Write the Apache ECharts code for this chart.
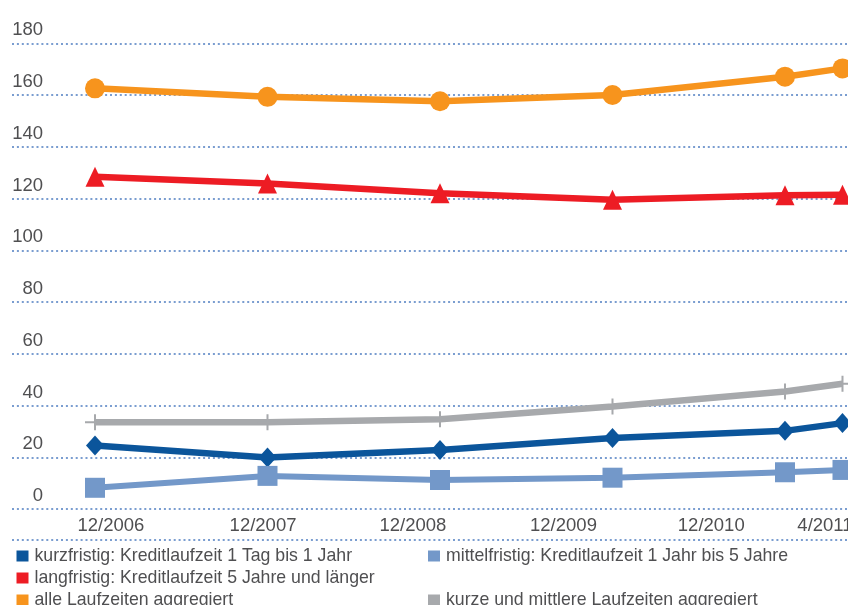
<!DOCTYPE html>
<html>
<head>
<meta charset="utf-8">
<script src="https://cdn.jsdelivr.net/npm/echarts@6/dist/echarts.min.js"></script>
<style>
html,body{margin:0;padding:0;background:#fff;}
#chart{width:848px;height:605px;}
</style>
</head>
<body>
<div id="chart"></div>
<script>
// months since 12/2006
const monthsX = [0, 12, 24, 36, 48, 52];
const xTickLabels = ['12/2006', '12/2007', '12/2008', '12/2009', '12/2010', '4/2011'];
const xLabelPositions = [1.11, 11.69, 22.12, 32.59, 42.87, 50.78];

const seriesNames = [
  'kurzfristig: Kreditlaufzeit 1 Tag bis 1 Jahr',
  'mittelfristig: Kreditlaufzeit 1 Jahr bis 5 Jahre',
  'langfristig: Kreditlaufzeit 5 Jahre und länger',
  'alle Laufzeiten aggregiert',
  'kurze und mittlere Laufzeiten aggregiert'
];
const kurzfristig = [24.5, 19.9, 22.8, 27.4, 30.2, 33.2];
const mittelfristig = [8.2, 12.8, 11.2, 12.1, 14.2, 15.1];
const langfristig = [128.4, 125.8, 122.0, 119.5, 121.3, 121.5];
const alleAggregiert = [162.6, 159.3, 157.6, 160.0, 167.1, 170.3];
const kurzMittelAggregiert = [33.5, 33.5, 34.7, 39.6, 45.4, 48.4];

const yMin = 0, yMax = 180, yStep = 20;

const colors = ['#0b559b', '#7398c9', '#ed1c24', '#f7941d', '#a7a9ac'];
const textColor = '#4f4f51';
const gridColor = '#7a9dd0';
const font = 'Liberation Sans, Arial, Helvetica, sans-serif';

function pairs(vals) { return vals.map((v, i) => [monthsX[i], v]); }

const chart = echarts.init(document.getElementById('chart'), null, {renderer: 'canvas'});

function lineSeries(name, vals, color, symbol, size, width) {
  return {
    name: name,
    type: 'line',
    data: pairs(vals),
    symbol: symbol,
    symbolSize: size,
    showAllSymbol: true,
    lineStyle: {color: color, width: width},
    itemStyle: {color: color},
    emphasis: {disabled: true},
    animation: false,
    z: 3
  };
}

const plusPath = 'path://M9,0 L11,0 L11,7 L20,7 L20,9 L11,9 L11,16 L9,16 L9,9 L0,9 L0,7 L9,7 Z';

function legendAt(left, top, name) {
  return {
    left: left,
    top: top,
    orient: 'vertical',
    icon: 'rect',
    itemWidth: 12,
    itemHeight: 11,
    selectedMode: false,
    data: [name],
    textStyle: {color: textColor, fontSize: 17.7, fontFamily: font, lineHeight: 20, padding: [0, 0, 0, 1]}
  };
}

chart.setOption({
  backgroundColor: '#ffffff',
  animation: false,
  grid: {left: 12, right: 0, top: 43.3, bottom: 96, containLabel: false, outerBoundsMode: 'none'},
  xAxis: {
    type: 'value',
    min: -5.774,
    max: 52.383,
    axisLine: {show: false},
    axisTick: {show: false},
    splitLine: {show: false},
    axisLabel: {
      customValues: xLabelPositions,
      color: textColor,
      fontSize: 18.5,
      fontFamily: font,
      margin: 7,
      formatter: function (val) {
        let best = 0, bd = Infinity;
        xLabelPositions.forEach((p, i) => { const d = Math.abs(p - val); if (d < bd) { bd = d; best = i; } });
        return xTickLabels[best];
      }
    }
  },
  yAxis: {
    type: 'value',
    min: yMin,
    max: yMax,
    interval: yStep,
    axisLine: {show: false},
    axisTick: {show: false},
    splitLine: {show: true, lineStyle: {color: gridColor, width: 2, type: [2, 2.9]}},
    axisLabel: {
      inside: true,
      align: 'right',
      margin: 31,
      verticalAlign: 'bottom',
      lineHeight: 26,
      color: textColor,
      fontSize: 18.5,
      fontFamily: font
    }
  },
  legend: [
    legendAt(11.5, 541, seriesNames[0]),
    legendAt(11.5, 563, seriesNames[2]),
    legendAt(11.5, 585, seriesNames[3]),
    legendAt(423, 541, seriesNames[1]),
    legendAt(423, 585, seriesNames[4])
  ],
  graphic: [{
    type: 'line',
    shape: {x1: 12, y1: 540, x2: 848, y2: 540},
    style: {stroke: gridColor, lineWidth: 2, lineDash: [2, 2.9]},
    silent: true
  }],
  series: [
    lineSeries(seriesNames[0], kurzfristig, colors[0], 'diamond', [18, 20], 6.5),
    lineSeries(seriesNames[1], mittelfristig, colors[1], 'rect', 20, 6),
    lineSeries(seriesNames[2], langfristig, colors[2], 'triangle', [19, 20], 6.5),
    lineSeries(seriesNames[3], alleAggregiert, colors[3], 'circle', 20, 6.5),
    lineSeries(seriesNames[4], kurzMittelAggregiert, colors[4], plusPath, [20, 16], 6.5)
  ]
});
</script>
</body>
</html>
